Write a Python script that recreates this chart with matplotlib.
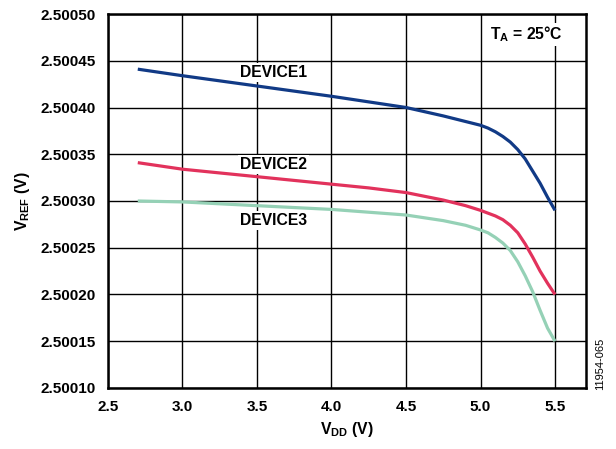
import numpy as np
import matplotlib.pyplot as plt

plt.rcParams['font.family'] = ['Liberation Sans', 'DejaVu Sans']
plt.rcParams['mathtext.fontset'] = 'custom'
plt.rcParams['mathtext.rm'] = 'Liberation Sans'
plt.rcParams['mathtext.bf'] = 'Liberation Sans:bold'

# supply voltage (V)
vdd = [2.7, 3.0, 3.5, 4.0, 4.25, 4.5, 4.75, 4.9, 5.0, 5.05, 5.1, 5.15, 5.2,
       5.25, 5.3, 5.35, 5.4, 5.45, 5.5]

# reference voltage (V) per device
device1 = [2.500441, 2.500434, 2.500423, 2.500412, 2.500406, 2.500400, 2.500391,
           2.500385, 2.500381, 2.500378, 2.500374, 2.500369, 2.500363, 2.500355,
           2.500345, 2.500332, 2.500319, 2.500304, 2.500290]
device2 = [2.500341, 2.500334, 2.500326, 2.500318, 2.500314, 2.500309, 2.500301,
           2.500295, 2.500290, 2.500287, 2.500284, 2.500280, 2.500274, 2.500266,
           2.500254, 2.500240, 2.500225, 2.500212, 2.500200]
device3 = [2.500300, 2.500299, 2.500295, 2.500291, 2.500288, 2.500285, 2.500279,
           2.500274, 2.500269, 2.500266, 2.500261, 2.500255, 2.500247, 2.500235,
           2.500220, 2.500203, 2.500183, 2.500164, 2.500150]

x_ticks = [2.5, 3.0, 3.5, 4.0, 4.5, 5.0, 5.5]
y_ticks = [2.50010, 2.50015, 2.50020, 2.50025, 2.50030, 2.50035, 2.50040, 2.50045, 2.50050]

fig = plt.figure(figsize=(6.16, 4.49), dpi=100)
ax = fig.add_axes([0.1753, 0.1359, 0.776, 0.8329])

for vals, col in [(device1, '#113a86'), (device2, '#e2325c'), (device3, '#95d1b6')]:
    ax.plot(vdd, vals, color=col, lw=2.3, zorder=3,
            solid_joinstyle='round', solid_capstyle='butt')

ax.set_xlim(2.5, 5.708)
ax.set_ylim(2.50010, 2.50050)
ax.set_xticks(x_ticks)
ax.set_xticklabels([f'{v:.1f}' for v in x_ticks])
ax.set_yticks(y_ticks)
ax.set_yticklabels([f'{v:.5f}' for v in y_ticks])
ax.tick_params(axis='y', length=0, labelsize=11, pad=9)
ax.tick_params(axis='x', length=0, labelsize=11, pad=8.5)
for lab in ax.get_xticklabels() + ax.get_yticklabels():
    lab.set_fontweight('bold')

ax.grid(True, color='black', lw=1.0, zorder=1)
for s in ax.spines.values():
    s.set_linewidth(1.8)

box = dict(facecolor='white', edgecolor='none', pad=1.5)
ax.text(3.61, 2.500437, 'DEVICE1', ha='center', va='center', fontsize=11.3,
        fontweight='bold', bbox=box, zorder=2)
ax.text(3.61, 2.500339, 'DEVICE2', ha='center', va='center', fontsize=11.3,
        fontweight='bold', bbox=box, zorder=2)
ax.text(3.61, 2.500279, 'DEVICE3', ha='center', va='center', fontsize=11.3,
        fontweight='bold', bbox=box, zorder=2)
ax.text(5.305, 2.500478, r'T$_\mathbf{A}$ = 25°C', ha='center', va='center',
        fontsize=11.3, fontweight='bold', bbox=box, zorder=2)

ax.set_xlabel(r'V$_\mathbf{DD}$ (V)', fontsize=11.3, fontweight='bold', labelpad=4.5)
ax.set_ylabel(r'V$_\mathbf{REF}$ (V)', fontsize=11.3, fontweight='bold', labelpad=6)

fig.text(0.974, 0.19, '11954-065', rotation=90, ha='center', va='center', fontsize=8)

fig.savefig('out.png', dpi=100)
